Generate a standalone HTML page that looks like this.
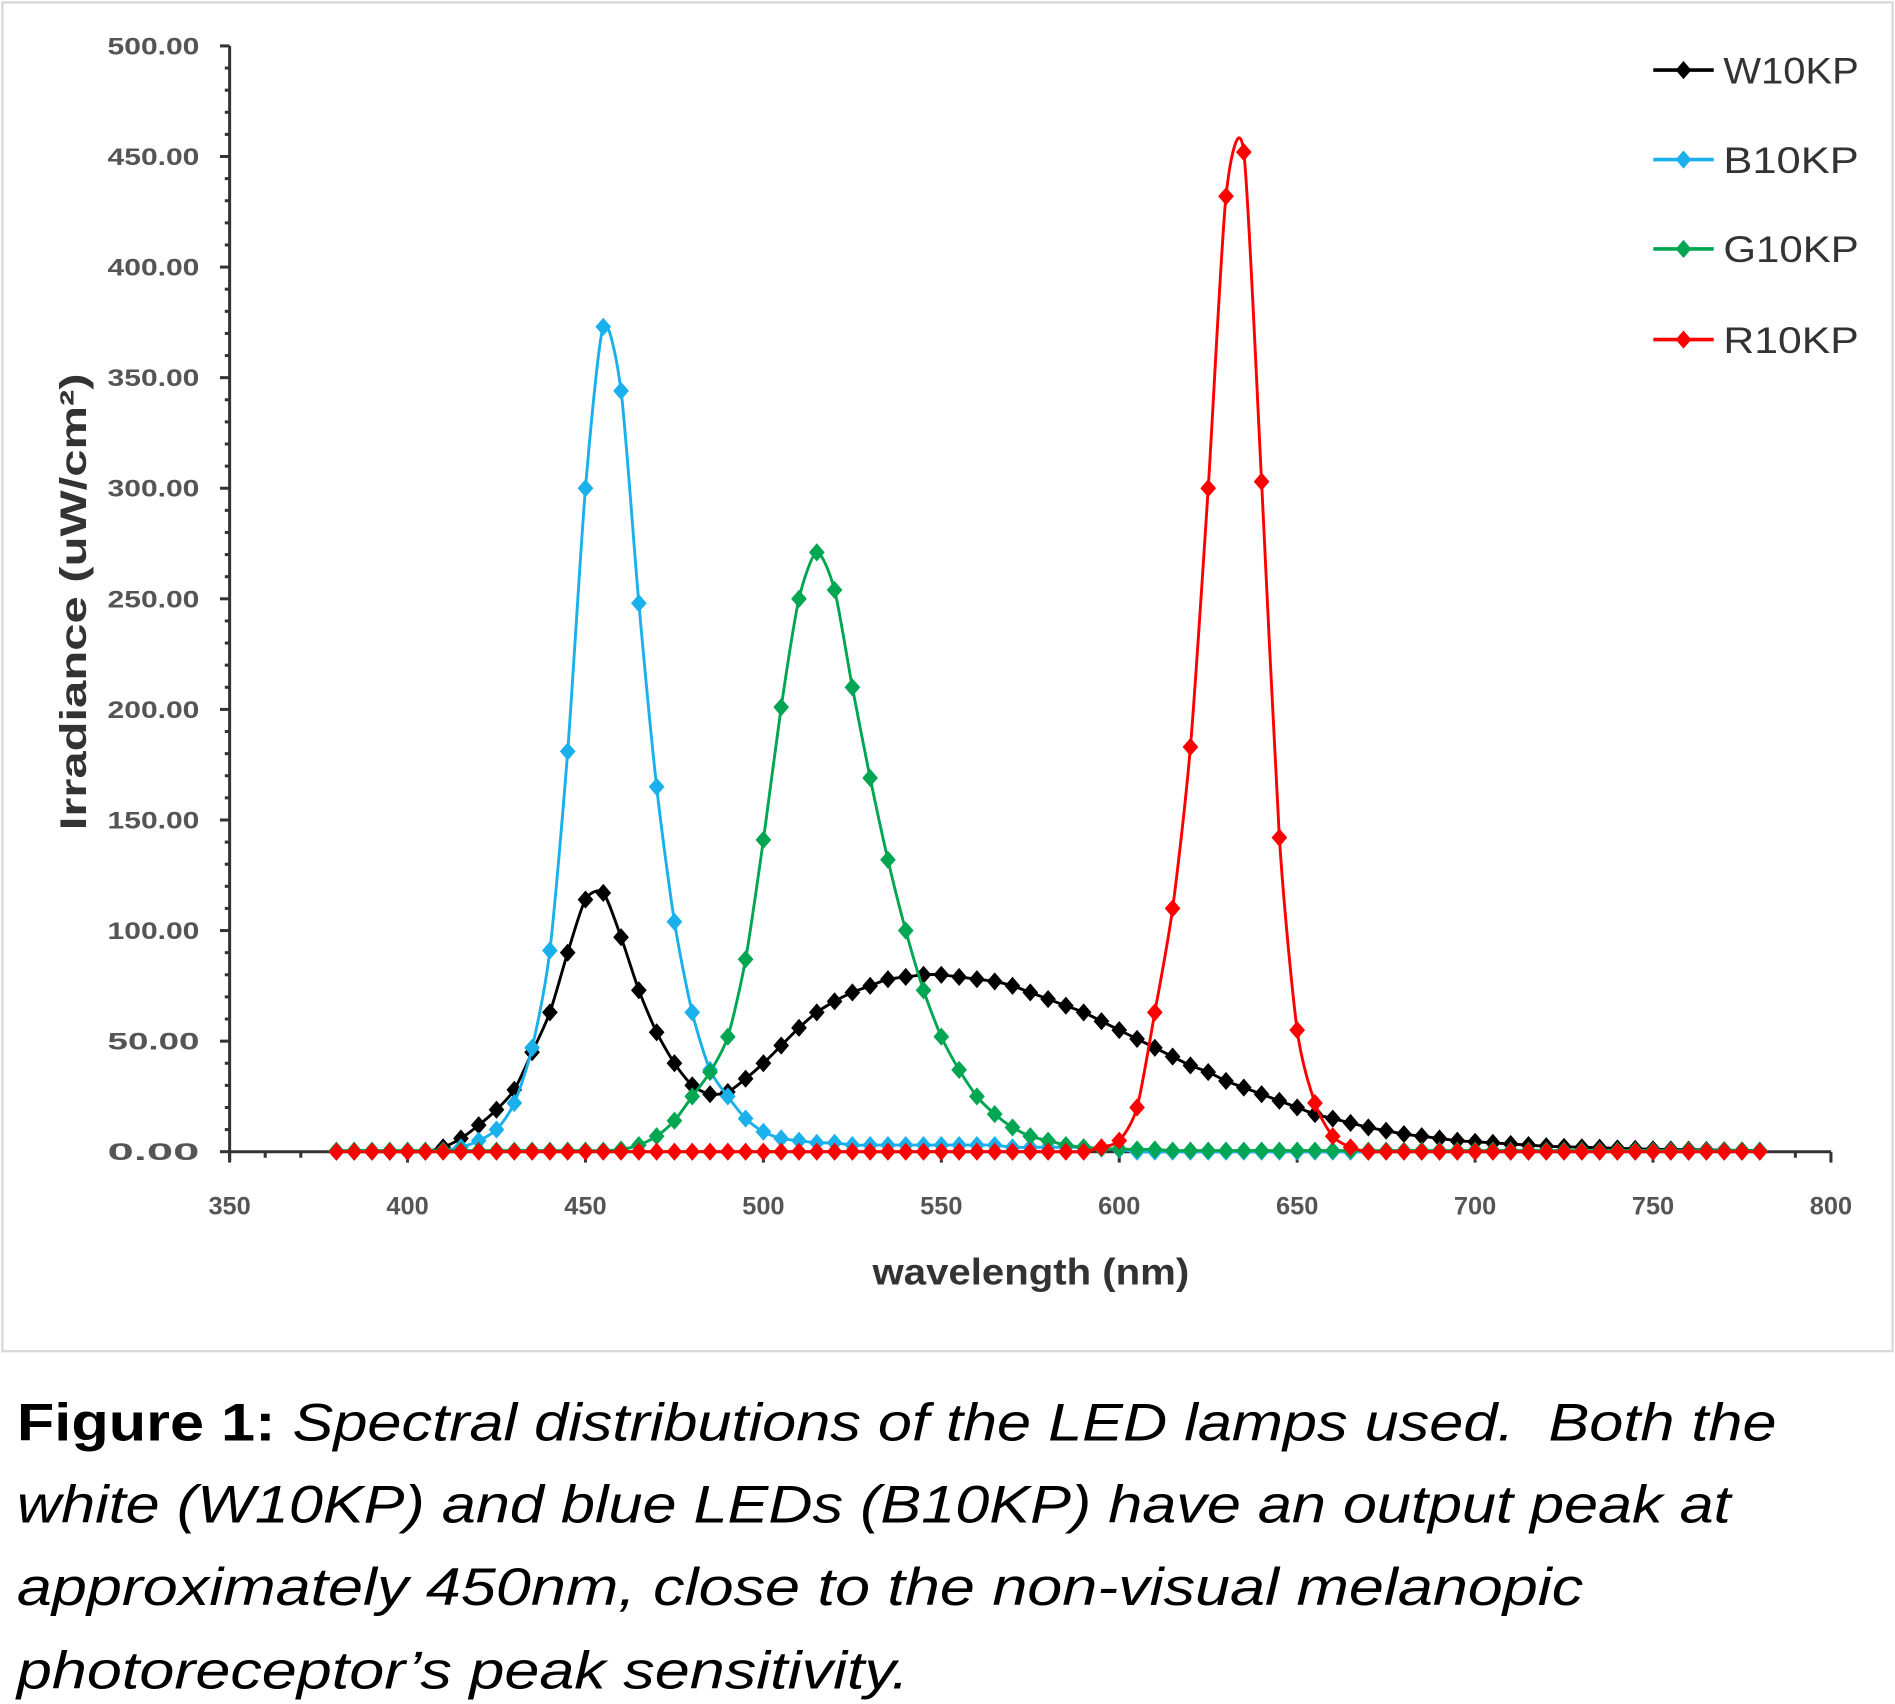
<!DOCTYPE html>
<html><head><meta charset="utf-8"><style>
html,body{margin:0;padding:0;background:#fff;}
svg{display:block;}
</style></head><body>
<svg id="s" width="1895" height="1704" viewBox="0 0 1568 1410" preserveAspectRatio="none" xmlns="http://www.w3.org/2000/svg">
<rect x="2" y="2" width="1564" height="1116" fill="#fff" stroke="#d9d9d9" stroke-width="2"/>
<g id="axes" stroke="#333" stroke-width="2.5" fill="none"></g>
<g id="labels" font-family="Liberation Sans, sans-serif" fill="#555" font-weight="bold"></g>
<g id="series"></g>
<text x="0" y="0" transform="translate(71,498) rotate(-90)" text-anchor="middle" font-family="Liberation Sans, sans-serif" font-weight="bold" font-size="31" fill="#333" textLength="378" lengthAdjust="spacingAndGlyphs">Irradiance (uW/cm²)</text>
<text x="853" y="1063" text-anchor="middle" font-family="Liberation Sans, sans-serif" font-size="31" fill="#333" font-weight="bold" textLength="262" lengthAdjust="spacingAndGlyphs">wavelength (nm)</text>
<g font-family="Liberation Sans, sans-serif" font-size="44" fill="#000">
<text x="14" y="1192" textLength="1456" lengthAdjust="spacingAndGlyphs"><tspan font-weight="bold">Figure 1:</tspan><tspan font-style="italic"> Spectral distributions of the LED lamps used.&#160; Both the</tspan></text>
<text x="14" y="1260" font-style="italic" textLength="1418" lengthAdjust="spacingAndGlyphs">white (W10KP) and blue LEDs (B10KP) have an output peak at</text>
<text x="14" y="1328" font-style="italic" textLength="1296" lengthAdjust="spacingAndGlyphs">approximately 450nm, close to the non-visual melanopic</text>
<text x="14" y="1397" font-style="italic" textLength="738" lengthAdjust="spacingAndGlyphs">photoreceptor’s peak sensitivity.</text>
</g>
</svg>
<script>
var NS="http://www.w3.org/2000/svg";
function X(nm){return 190+(nm-350)*1325/450;}
function Y(v){return 953-v*915/500;}
function el(t,a,p){var e=document.createElementNS(NS,t);for(var k in a)e.setAttribute(k,a[k]);p.appendChild(e);return e;}
var ax=document.getElementById('axes'),lb=document.getElementById('labels'),se=document.getElementById('series');
el('line',{x1:190,y1:Y(500),x2:190,y2:Y(0)+7},ax);
el('line',{x1:190,y1:953,x2:1515,y2:953},ax);
for(var v=0;v<=500;v+=10){var maj=v%50==0;el('line',{x1:maj?182:186,y1:Y(v),x2:190,y2:Y(v)},ax);
 if(maj){var t=el('text',{x:165,y:Y(v)+7,'text-anchor':'end','font-size':20,textLength:76,lengthAdjust:'spacingAndGlyphs'},lb);t.textContent=v.toFixed(2);}}
for(var n=350;n<=800;n+=10){var m=n%50==0;el('line',{x1:X(n),y1:953,x2:X(n),y2:m?962:958},ax);
 if(m){var t=el('text',{x:X(n),y:1005,'text-anchor':'middle','font-size':21},lb);t.textContent=n;}}
function fill(obj){var a=[];for(var n=380;n<=780;n+=5){a.push(obj[n]!==undefined?obj[n]:(obj._d||0));}return a;}
var red={595:2,600:5,605:20,610:63,615:110,620:183,625:300,630:432,635:452,640:303,645:142,650:55,655:22,660:7,665:2};
var blue={410:0.5,415:2,420:5,425:10,430:22,435:47,440:91,445:181,450:300,455:373,460:344,465:248,470:165,475:104,480:63,485:37,490:25,495:15,500:9,505:6,510:5,515:4,520:4,525:3,530:3,535:3,540:3,545:3,550:3,555:3,560:3,565:3,570:2,575:2,580:2,585:2,590:2,595:1.5,600:1};
var green={460:1,465:3,470:7,475:14,480:25,485:36,490:52,495:87,500:141,505:201,510:250,515:271,520:254,525:210,530:169,535:132,540:100,545:73,550:52,555:37,560:25,565:17,570:11,575:7,580:5,585:3,590:2,595:1.5,600:1.2,605:1,610:1,_d:0.5};
var blk={410:2,415:6,420:12,425:19,430:28,435:45,440:63,445:90,450:114,455:117,460:97,465:73,470:54,475:40,480:30,485:26,490:27,495:33,500:40,505:48,510:56,515:63,520:68,525:72,530:75,535:78,540:79,545:80,550:80,555:79,560:78,565:77,570:75,575:72,580:69,585:66,590:63,595:59,600:55,605:51,610:47,615:43,620:39,625:36,630:32,635:29,640:26,645:23,650:20,655:17,660:15,665:13,670:11,675:9.5,680:8,685:7,690:6,695:5,700:4.5,705:4,710:3.5,715:3,720:2.5,725:2.2,730:2,735:1.8,740:1.5,745:1.3,750:1.1,755:1,760:0.9,765:0.8,770:0.7,775:0.6,780:0.5};
function draw(data,col){var pts=[];for(var i=0;i<data.length;i++)pts.push([X(380+5*i),Y(data[i])]);
 var d='M'+pts[0][0]+','+pts[0][1],k=8;
 for(var i=0;i<pts.length-1;i++){var p0=pts[Math.max(0,i-1)],p1=pts[i],p2=pts[i+1],p3=pts[Math.min(pts.length-1,i+2)];
  var c1=[p1[0]+(p2[0]-p0[0])/k,p1[1]+(p2[1]-p0[1])/k],c2=[p2[0]-(p3[0]-p1[0])/k,p2[1]-(p3[1]-p1[1])/k];
  d+=' C'+c1+' '+c2+' '+p2;}
 el('path',{d:d,fill:'none',stroke:col,'stroke-width':2.4},se);
 var g=el('g',{fill:col},se);
 pts.forEach(function(p){el('path',{d:'M'+p[0]+','+(p[1]-7.5)+' l6.5,7.5 l-6.5,7.5 l-6.5,-7.5z'},g);});}
draw(fill(blk),'#000');draw(fill(blue),'#1ab0ec');draw(fill(green),'#00a651');draw(fill(red),'#f00');
var leg=[['W10KP','#000',58],['B10KP','#1ab0ec',132],['G10KP','#00a651',206],['R10KP','#f00',281]];
leg.forEach(function(l){el('line',{x1:1368,y1:l[2],x2:1418,y2:l[2],stroke:l[1],'stroke-width':3},se);
 el('path',{d:'M1393,'+(l[2]-7.5)+' l6.5,7.5 l-6.5,7.5 l-6.5,-7.5z',fill:l[1]},se);
 var t=el('text',{x:1426,y:l[2]+11,'font-size':31,'font-family':'Liberation Sans, sans-serif',fill:'#333',textLength:112,lengthAdjust:'spacingAndGlyphs'},se);t.textContent=l[0];});
</script>
</body></html>
